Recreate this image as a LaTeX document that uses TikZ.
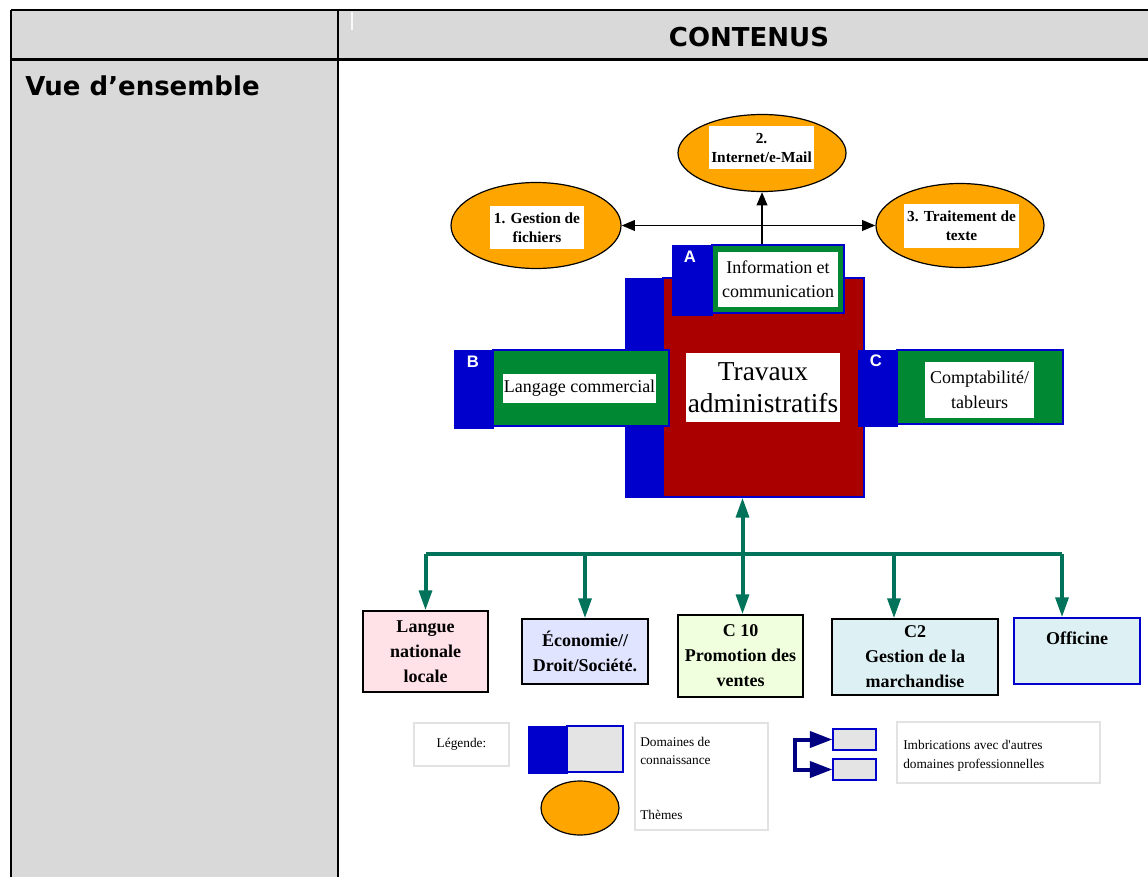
\documentclass[tikz,border=0pt]{standalone}
\usepackage{fontspec}
\setmainfont{Liberation Serif}
\newfontfamily\hdrfont{DejaVu Sans}
\newfontfamily\arialfont{Liberation Sans}
\usetikzlibrary{arrows.meta,shapes.geometric}
\definecolor{hdrgrey}{HTML}{D9D9D9}
\definecolor{dblue}{HTML}{0000CC}
\definecolor{dgreen}{HTML}{008833}
\definecolor{dred}{HTML}{AA0000}
\definecolor{orng}{HTML}{FFA500}
\definecolor{bgreen}{HTML}{00735A}
\definecolor{navyc}{HTML}{000080}
\definecolor{pinkf}{HTML}{FFE1E8}
\definecolor{lavf}{HTML}{E1E4FF}
\definecolor{lgreenf}{HTML}{F0FFDD}
\definecolor{cyanf}{HTML}{DDF1F4}
\definecolor{legg}{HTML}{E4E4E4}
\definecolor{legline}{HTML}{E2E2E2}
\begin{document}
\begin{tikzpicture}[x=0.75pt,y=-0.75pt,
  theme/.style={ellipse, draw=black, line width=0.9pt, fill=orng, inner sep=0},
  lbl/.style={fill=white, inner sep=0, align=center, font=\bfseries\fontsize{11.5}{14.25}\selectfont},
  bluebar/.style={fill=dblue, draw=dblue, line width=0.5pt, inner sep=0},
  greenbox/.style={fill=dgreen, draw=dblue, line width=0.8pt, inner sep=0},
  wlbl/.style={fill=white, inner sep=0, align=center, font=\fontsize{13.5}{18}\selectfont},
  letter/.style={text=white, inner sep=0, font=\arialfont\bfseries\fontsize{12.5}{14}\selectfont},
  dombox/.style={draw=black, line width=0.9pt, inner sep=0, align=center, font=\bfseries\fontsize{13.5}{18.75}\selectfont},
  gline/.style={draw=bgreen, line width=3pt},
  garrow/.style={draw=bgreen, line width=3pt, -{Triangle[length=15pt,width=9.5pt]}},
  bline/.style={draw=black, line width=1.4pt},
  btip/.tip={Triangle[length=10pt,width=8pt]},
  legbox/.style={draw=legline, line width=1.4pt, inner sep=0},
  legtext/.style={inner sep=0, align=left, font=\fontsize{10}{14}\selectfont},
  navline/.style={draw=navyc, line width=3pt, line join=miter},
  ntip/.tip={Triangle[length=17pt,width=12pt]},
  hdr/.style={inner sep=0, font=\hdrfont\bfseries\fontsize{19.5}{23}\selectfont}
]
\useasboundingbox (0,0) rectangle (1148,877);
% ---------- table ----------
\fill[white] (0,0) rectangle (1148,877);
\fill[hdrgrey] (11,10) rectangle (338,877);
\fill[hdrgrey] (338,10) rectangle (1148,59);
\draw[white!85!hdrgrey, line width=0.8pt] (352,12) -- (352,30);
\draw[black, line width=1.2pt] (11,10) -- (1148,10);
\draw[black, line width=1.2pt] (11,10) -- (11,877);
\draw[black, line width=2pt] (11,59.5) -- (1148,59.5);
\draw[black, line width=2pt] (338,10) -- (338,877);
\node[hdr, anchor=base] (contenus) at (749,47) {CONTENUS};
\node[hdr, anchor=base west] (vue) at (25,96) {Vue d’ensemble};

% ---------- central block ----------
\node[bluebar, minimum width=38*0.75pt, minimum height=219*0.75pt] (travbar) at (644,387.5) {};
\node[fill=dred, draw=dblue, line width=0.8pt, inner sep=0, minimum width=201*0.75pt, minimum height=219*0.75pt] (trav) at (763.5,387.5) {};
\node[wlbl, font=\fontsize{20.5}{24}\selectfont, minimum width=154*0.75pt, minimum height=69*0.75pt] (travlbl) at (763,387.5) {Travaux\\administratifs};

% A
\node[bluebar, minimum width=40*0.75pt, minimum height=70*0.75pt] (ablue) at (692,280) {};
\node[greenbox, minimum width=132*0.75pt, minimum height=68*0.75pt] (agreen) at (778,279) {};
\node[wlbl, minimum width=120*0.75pt, minimum height=55*0.75pt] (albl) at (778,279.5) {Information et\\communication};
\node[letter] (aletter) at (690,257) {A};

% B
\node[bluebar, minimum width=39*0.75pt, minimum height=78*0.75pt] (bblue) at (473.5,389) {};
\node[greenbox, minimum width=176*0.75pt, minimum height=76*0.75pt] (bgreenb) at (581,388) {};
\node[wlbl, minimum width=153*0.75pt, minimum height=29*0.75pt] (blbl) at (579.5,388.5) {Langage commercial};
\node[letter] (bletter) at (473,362) {B};

% C
\node[bluebar, minimum width=39*0.75pt, minimum height=76*0.75pt] (cblue) at (877.5,388) {};
\node[greenbox, minimum width=166*0.75pt, minimum height=74*0.75pt] (cgreen) at (980,387) {};
\node[wlbl, font=\fontsize{13.5}{18.75}\selectfont, minimum width=109*0.75pt, minimum height=56*0.75pt] (clbl) at (979.5,390) {Comptabilité/\\tableurs};
\node[letter] (cletter) at (876,361) {C};

% ---------- themes ----------
\node[theme, minimum width=170*0.75pt, minimum height=86*0.75pt] (e1) at (536,225.5) {};
\node[lbl, minimum width=94*0.75pt, minimum height=43*0.75pt] (l1) at (537,227.5) {1. Gestion de\\fichiers};
\node[theme, minimum width=168*0.75pt, minimum height=77*0.75pt] (e2) at (762,153) {};
\node[lbl, minimum width=105*0.75pt, minimum height=43*0.75pt] (l2) at (761.5,147.5) {2.\\Internet/e-Mail};
\node[theme, minimum width=168*0.75pt, minimum height=84*0.75pt] (e3) at (960,225.5) {};
\node[lbl, minimum width=115*0.75pt, minimum height=44*0.75pt] (l3) at (961.5,226) {3. Traitement de\\texte};

\draw[bline, btip-btip] (e1) -- (e3);
\draw[bline, -btip] (e2.south |- agreen.north) -- (e2.south);

% ---------- domains below ----------
\node[dombox, fill=pinkf, minimum width=125*0.75pt, minimum height=81*0.75pt] (langue) at (425.5,651.5) {Langue\\nationale\\locale};
\node[dombox, fill=lavf, minimum width=126*0.75pt, minimum height=65*0.75pt] (eco) at (585,651.5) {Économie//\\Droit/Société.};
\node[dombox, fill=lgreenf, minimum width=125*0.75pt, minimum height=82*0.75pt] (c10) at (740.5,656) {C 10\\Promotion des\\ventes};
\node[dombox, fill=cyanf, minimum width=166*0.75pt, minimum height=76*0.75pt] (c2) at (915,657) {C2\\Gestion de la\\marchandise};
\node[dombox, fill=cyanf, draw=dblue, minimum width=126*0.75pt, minimum height=66*0.75pt] (off) at (1077,651) {Officine\\\mbox{}};

\coordinate (bus) at (742.5,554);
\coordinate (d4) at (894,554);
\coordinate (d5) at (1062,554);
\draw[gline] (langue.north |- bus) -- (d5);
\draw[garrow] (bus) -- (trav.south -| bus);
\draw[garrow] (langue.north |- bus) -- (langue.north);
\draw[garrow] (eco.north |- bus) -- (eco.north);
\draw[garrow] (bus) -- (c10.north -| bus);
\draw[garrow] (d4) -- (c2.north -| d4);
\draw[garrow] (d5) -- (off.north -| d5);

% ---------- legend ----------
\node[legbox, font=\fontsize{10}{12}\selectfont, minimum width=95*0.75pt, minimum height=43*0.75pt] (leg) at (461.5,744.5) {Légende:};
\node[bluebar, minimum width=39*0.75pt, minimum height=47*0.75pt] (legblue) at (547.5,749.5) {};
\node[fill=legg, draw=dblue, line width=0.8pt, inner sep=0, minimum width=56*0.75pt, minimum height=46*0.75pt] (leggrey) at (595,749) {};
\node[theme, minimum width=78*0.75pt, minimum height=54*0.75pt] (legell) at (580,808) {};
\node[legbox, minimum width=133*0.75pt, minimum height=107*0.75pt] (legtxtbox) at (701.5,776.5) {};
\node[legtext, anchor=west] (legdom) at (640,751) {Domaines de\\connaissance};
\node[legtext, anchor=west] (legthem) at (640,815) {Thèmes};

\node[fill=legg, draw=dblue, line width=0.8pt, inner sep=0, minimum width=43*0.75pt, minimum height=21*0.75pt] (sb1) at (854.5,739.5) {};
\node[fill=legg, draw=dblue, line width=0.8pt, inner sep=0, minimum width=43*0.75pt, minimum height=21*0.75pt] (sb2) at (854.5,769.5) {};
\coordinate (brx) at (795,0);
\draw[navline, ntip-ntip] (sb1.west) -- (sb1.west -| brx) -- (sb2.west -| brx) -- (sb2.west);
\node[legbox, minimum width=203*0.75pt, minimum height=61*0.75pt] (imbbox) at (998.5,752.5) {};
\node[legtext, anchor=west] (imb) at (903,755.5) {Imbrications avec d\textquotesingle autres\\domaines professionnelles};
\end{tikzpicture}
\end{document}
